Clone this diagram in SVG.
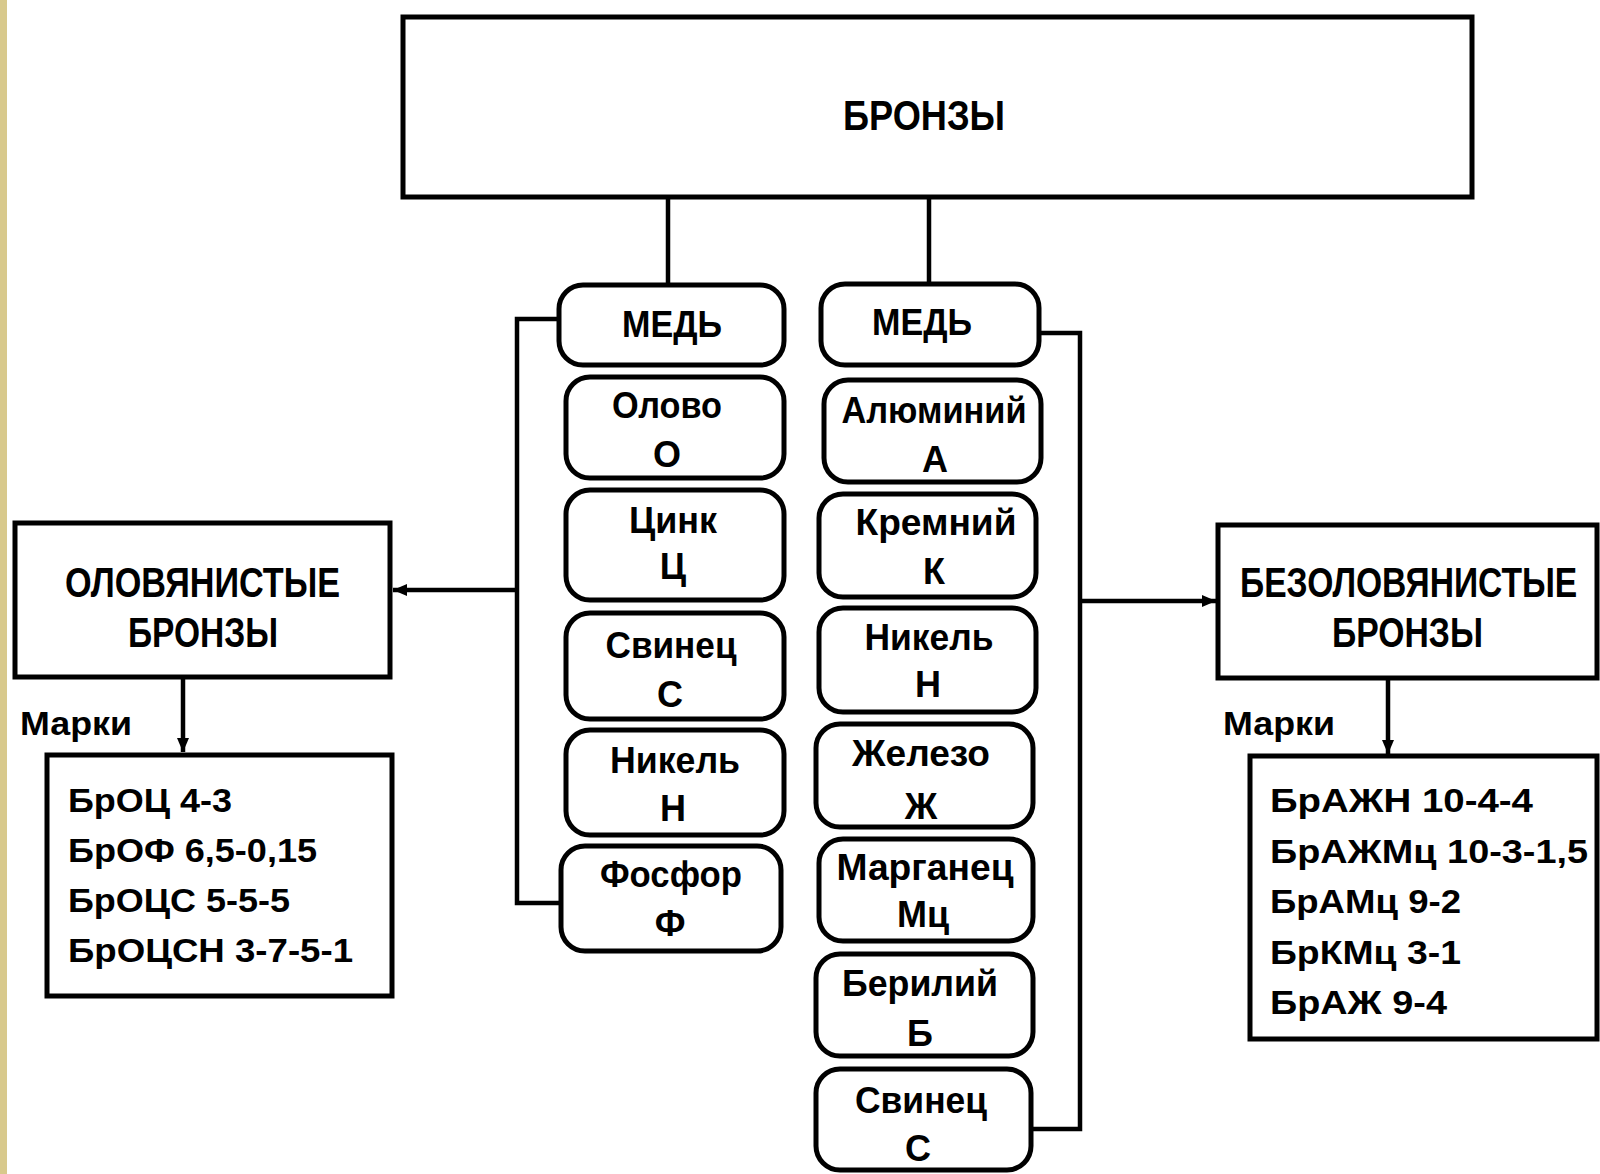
<svg xmlns="http://www.w3.org/2000/svg" width="1600" height="1174" viewBox="0 0 1600 1174">
<style>
.box{fill:#fff;stroke:#000;stroke-width:5}
.rbox{fill:#fff;stroke:#000;stroke-width:5}
.ln{fill:none;stroke:#000;stroke-width:4.5}
text{font-family:"Liberation Sans","DejaVu Sans",sans-serif;font-weight:bold;fill:#000}
.big{font-size:42px}
.el{font-size:36px;text-anchor:middle}
.mk{font-size:34px}
</style>
<defs>
<marker id="arr" markerUnits="userSpaceOnUse" markerWidth="16" markerHeight="14" refX="14" refY="7" orient="auto">
<path d="M0,1 L14,7 L0,13 Z" fill="#000"/>
</marker>
</defs>
<rect x="0" y="0" width="1600" height="1174" fill="#fff"/>
<rect x="0" y="0" width="7" height="1174" fill="#d8c98c"/>

<g id="connectors">
<path class="ln" d="M668,197 V285"/>
<path class="ln" d="M929,197 V284"/>
<path class="ln" d="M559,319 H517 V903 H561"/>
<path class="ln" d="M517,590 H393" marker-end="url(#arr)"/>
<path class="ln" d="M1039,333 H1080 V1129 H1031"/>
<path class="ln" d="M1080,601 H1216" marker-end="url(#arr)"/>
<path class="ln" d="M183,677 V752" marker-end="url(#arr)"/>
<path class="ln" d="M1388,678 V754" marker-end="url(#arr)"/>
</g>

<g id="bronzy">
<rect class="box" x="403" y="17" width="1069" height="180"/>
<text class="big" x="843" y="130" textLength="162" lengthAdjust="spacingAndGlyphs">БРОНЗЫ</text>
</g>

<g id="olov">
<rect class="box" x="15" y="523" width="375" height="154"/>
<text class="big" x="65" y="597" textLength="275" lengthAdjust="spacingAndGlyphs">ОЛОВЯНИСТЫЕ</text>
<text class="big" x="128" y="647" textLength="150" lengthAdjust="spacingAndGlyphs">БРОНЗЫ</text>
</g>

<g id="bezolov">
<rect class="box" x="1218" y="525" width="379" height="153"/>
<text class="big" transform="translate(1240,597) scale(0.8,1)" x="0" y="0">БЕЗОЛОВЯНИСТЫЕ</text>
<text class="big" x="1332" y="647" textLength="151" lengthAdjust="spacingAndGlyphs">БРОНЗЫ</text>
</g>

<g id="marki-left-label"><text class="mk" x="20" y="735" textLength="112" lengthAdjust="spacingAndGlyphs">Марки</text></g>
<g id="marki-right-label"><text class="mk" x="1223" y="735" textLength="112" lengthAdjust="spacingAndGlyphs">Марки</text></g>

<g id="marks-left">
<rect class="box" x="47" y="755" width="345" height="241"/>
<text class="mk" x="68" y="812" textLength="164" lengthAdjust="spacingAndGlyphs">БрОЦ 4-3</text>
<text class="mk" x="68" y="862" textLength="249" lengthAdjust="spacingAndGlyphs">БрОФ 6,5-0,15</text>
<text class="mk" x="68" y="912" textLength="222" lengthAdjust="spacingAndGlyphs">БрОЦС 5-5-5</text>
<text class="mk" x="68" y="962" textLength="285" lengthAdjust="spacingAndGlyphs">БрОЦСН 3-7-5-1</text>
</g>

<g id="marks-right">
<rect class="box" x="1250" y="756" width="347" height="283"/>
<text class="mk" x="1270" y="812" textLength="263" lengthAdjust="spacingAndGlyphs">БрАЖН 10-4-4</text>
<text class="mk" x="1270" y="863" textLength="318" lengthAdjust="spacingAndGlyphs">БрАЖМц 10-3-1,5</text>
<text class="mk" x="1270" y="913" textLength="191" lengthAdjust="spacingAndGlyphs">БрАМц 9-2</text>
<text class="mk" x="1270" y="964" textLength="191" lengthAdjust="spacingAndGlyphs">БрКМц 3-1</text>
<text class="mk" x="1270" y="1014" textLength="177" lengthAdjust="spacingAndGlyphs">БрАЖ 9-4</text>
</g>

<g id="med-left">
<rect class="rbox" x="559" y="285" width="225" height="80" rx="24"/>
<text class="el" x="672" y="337" textLength="100" lengthAdjust="spacingAndGlyphs">МЕДЬ</text>
</g>
<g id="olovo">
<rect class="rbox" x="566" y="377" width="218" height="101" rx="24"/>
<text class="el" x="667" y="418" textLength="110" lengthAdjust="spacingAndGlyphs">Олово</text>
<text class="el" x="667" y="467">О</text>
</g>
<g id="cink">
<rect class="rbox" x="566" y="490" width="218" height="110" rx="24"/>
<text class="el" x="673" y="533" textLength="88" lengthAdjust="spacingAndGlyphs">Цинк</text>
<text class="el" x="673" y="579">Ц</text>
</g>
<g id="svinec-left">
<rect class="rbox" x="566" y="613" width="218" height="106" rx="24"/>
<text class="el" x="671" y="658" textLength="131" lengthAdjust="spacingAndGlyphs">Свинец</text>
<text class="el" x="670" y="707">С</text>
</g>
<g id="nikel-left">
<rect class="rbox" x="566" y="730" width="218" height="105" rx="24"/>
<text class="el" x="675" y="773" textLength="130" lengthAdjust="spacingAndGlyphs">Никель</text>
<text class="el" x="673" y="821">Н</text>
</g>
<g id="fosfor">
<rect class="rbox" x="561" y="846" width="220" height="105" rx="24"/>
<text class="el" x="671" y="887" textLength="142" lengthAdjust="spacingAndGlyphs">Фосфор</text>
<text class="el" x="670" y="936">Ф</text>
</g>

<g id="med-right">
<rect class="rbox" x="821" y="284" width="218" height="81" rx="24"/>
<text class="el" x="922" y="335" textLength="100" lengthAdjust="spacingAndGlyphs">МЕДЬ</text>
</g>
<g id="aluminiy">
<rect class="rbox" x="824" y="380" width="217" height="102" rx="24"/>
<text class="el" x="934" y="423" textLength="185" lengthAdjust="spacingAndGlyphs">Алюминий</text>
<text class="el" x="935" y="472">А</text>
</g>
<g id="kremniy">
<rect class="rbox" x="819" y="494" width="217" height="103" rx="24"/>
<text class="el" x="936" y="535" textLength="161" lengthAdjust="spacingAndGlyphs">Кремний</text>
<text class="el" x="934" y="584">К</text>
</g>
<g id="nikel-right">
<rect class="rbox" x="819" y="608" width="217" height="104" rx="24"/>
<text class="el" x="929" y="650" textLength="129" lengthAdjust="spacingAndGlyphs">Никель</text>
<text class="el" x="928" y="697">Н</text>
</g>
<g id="zhelezo">
<rect class="rbox" x="816" y="724" width="217" height="103" rx="24"/>
<text class="el" x="921" y="766" textLength="138" lengthAdjust="spacingAndGlyphs">Железо</text>
<text class="el" x="921" y="819">Ж</text>
</g>
<g id="marganec">
<rect class="rbox" x="819" y="839" width="214" height="102" rx="24"/>
<text class="el" x="925" y="880" textLength="177" lengthAdjust="spacingAndGlyphs">Марганец</text>
<text class="el" x="923" y="927">Мц</text>
</g>
<g id="beriliy">
<rect class="rbox" x="816" y="954" width="217" height="102" rx="24"/>
<text class="el" x="920" y="996" textLength="156" lengthAdjust="spacingAndGlyphs">Берилий</text>
<text class="el" x="920" y="1046">Б</text>
</g>
<g id="svinec-right">
<rect class="rbox" x="816" y="1069" width="215" height="101" rx="24"/>
<text class="el" x="921" y="1113" textLength="132" lengthAdjust="spacingAndGlyphs">Свинец</text>
<text class="el" x="918" y="1161">С</text>
</g>
</svg>
